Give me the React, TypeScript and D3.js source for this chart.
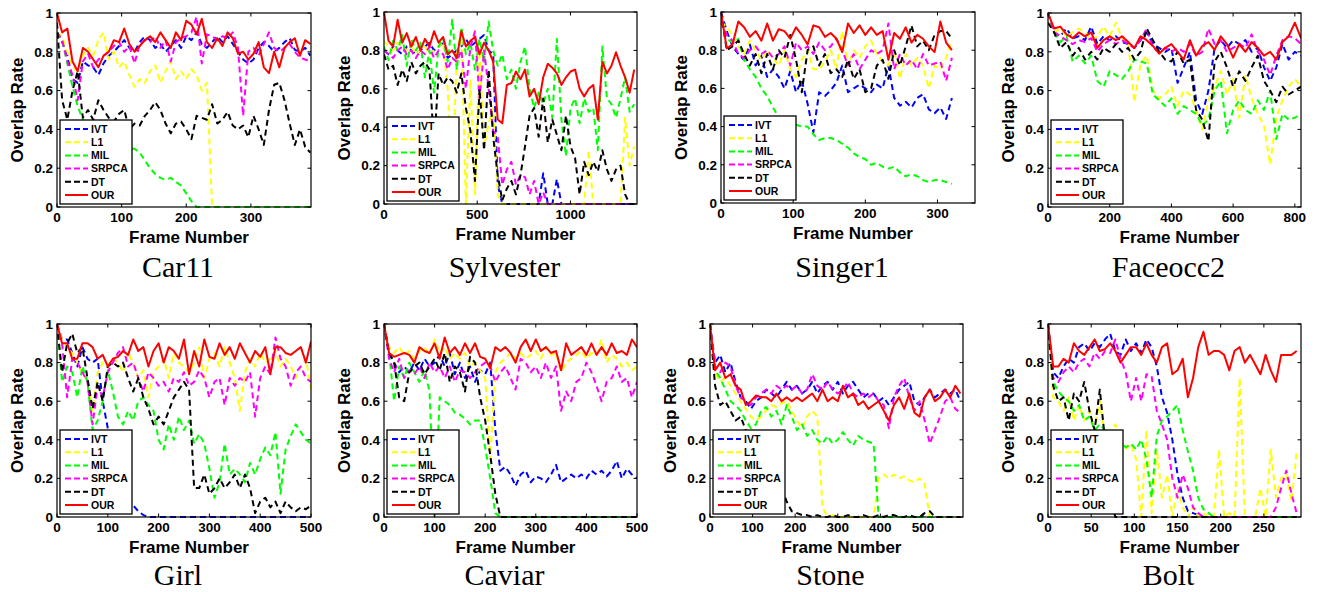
import React from "react";
import * as d3 from "d3";

// overlap rate curves of six trackers on eight sequences
const methods = ["IVT", "L1", "MIL", "SRPCA", "DT", "OUR"];
const methodColors = ["#0000ff", "#ffff00", "#00ff00", "#ff00ff", "#000000", "#ff0000"];
const yTicks = [0, 0.2, 0.4, 0.6, 0.8, 1];

// Car11: one value every 8 frames
const car11IVT = [0.9,0.85,0.78,0.66,0.64,0.75,0.73,0.72,0.68,0.74, 0.78,0.8,0.83,0.86,0.82,0.8,0.85,0.88,0.86,0.82, 0.84,0.8,0.83,0.86,0.82,0.88,0.86,0.9,0.84,0.82, 0.85,0.88,0.85,0.88,0.84,0.8,0.76,0.74,0.76,0.82, 0.85,0.83,0.8,0.82,0.85,0.87,0.81,0.8,0.82,0.78];
const car11L1 = [0.9,0.88,0.8,0.72,0.7,0.78,0.82,0.78,0.86,0.9, 0.76,0.8,0.72,0.75,0.68,0.62,0.66,0.64,0.7,0.73, 0.64,0.7,0.75,0.66,0.7,0.66,0.71,0.68,0.6,0.64, 0,0,0,0,0,0,0,0,0,0, 0,0,0,0,0,0,0,0,0,0];
const car11MIL = [0.9,0.86,0.74,0.62,0.52,0.45,0.42,0.41,0.4,0.38, 0.37,0.36,0.34,0.32,0.3,0.3,0.28,0.24,0.2,0.17, 0.15,0.14,0.15,0.13,0.11,0.07,0.03,0,0,0, 0,0,0,0,0,0,0,0,0,0, 0,0,0,0,0,0,0,0,0,0];
const car11SRPCA = [0.9,0.86,0.75,0.68,0.55,0.75,0.79,0.72,0.76,0.78, 0.8,0.83,0.85,0.8,0.83,0.74,0.84,0.86,0.85,0.88, 0.82,0.86,0.75,0.85,0.87,0.88,0.9,0.98,0.74,0.89, 0.88,0.86,0.88,0.87,0.9,0.82,0.47,0.8,0.82,0.78, 0.84,0.9,0.82,0.8,0.82,0.84,0.8,0.77,0.76,0.75];
const car11DT = [0.95,0.55,0.45,0.6,0.7,0.46,0.5,0.45,0.55,0.5, 0.46,0.44,0.48,0.5,0.4,0.43,0.42,0.47,0.5,0.54, 0.5,0.43,0.38,0.43,0.44,0.4,0.35,0.47,0.46,0.45, 0.53,0.43,0.45,0.49,0.42,0.4,0.42,0.36,0.47,0.4, 0.32,0.5,0.63,0.64,0.55,0.43,0.32,0.4,0.31,0.28];
const car11OUR = [1.0,0.9,0.92,0.75,0.7,0.82,0.8,0.76,0.72,0.78, 0.8,0.86,0.85,0.92,0.84,0.8,0.83,0.86,0.88,0.85, 0.9,0.86,0.82,0.9,0.86,0.96,0.94,0.89,0.97,0.85, 0.82,0.87,0.83,0.9,0.87,0.79,0.8,0.76,0.79,0.85, 0.72,0.69,0.8,0.72,0.82,0.85,0.87,0.78,0.86,0.84];

// Sylvester: one value every 24.4 frames
const sylvesterIVT = [0.8,0.78,0.82,0.8,0.78,0.82,0.8,0.78,0.8,0.82, 0.84,0.8,0.82,0.84,0.76,0.78,0.8,0.82,0.86,0.82, 0.84,0.86,0.88,0.8,0.78,0.1,0,0,0,0, 0,0,0,0,0,0.16,0,0,0.13,0, 0,0,0,0,0,0,0,0,0,0, 0,0,0,0,0,0];
const sylvesterL1 = [0.85,0.82,0.8,0.84,0.82,0.8,0.82,0.78,0.8,0.82, 0.78,0.8,0.82,0.84,0.6,0.1,0.78,0.92,0,0.65, 0.05,0.8,0.3,0.42,0.5,0.05,0,0,0,0, 0,0,0,0,0,0,0,0,0,0, 0,0,0,0,0,0.28,0,0,0,0, 0,0,0,0.45,0.2,0.3];
const sylvesterMIL = [0.82,0.75,0.85,0.8,0.88,0.72,0.86,0.8,0.84,0.66, 0.8,0.58,0.82,0.86,0.74,0.96,0.7,0.92,0.78,0.84, 0.7,0.86,0.74,0.95,0.8,0.72,0.78,0.65,0.7,0.6, 0.74,0.82,0.6,0.5,0.58,0.52,0.6,0.45,0.86,0.44, 0.25,0.5,0.55,0.42,0.55,0.48,0.5,0.28,0.82,0.55, 0.52,0.45,0.55,0.66,0.48,0.52];
const sylvesterSRPCA = [0.8,0.78,0.76,0.8,0.82,0.78,0.8,0.76,0.8,0.78, 0.82,0.76,0.8,0.78,0.7,0.76,0.74,0.8,0.6,0.82, 0.9,0.55,0.8,0.6,0.38,0.35,0.1,0.18,0.22,0.1, 0.15,0.14,0.05,0.12,0,0.06,0,0,0,0, 0,0,0,0,0,0,0,0,0,0, 0,0,0,0,0,0];
const sylvesterDT = [0.78,0.7,0.72,0.62,0.7,0.64,0.74,0.68,0.72,0.74, 0.7,0.3,0.68,0.62,0.66,0.64,0.58,0.68,0.5,0.38, 0.12,0.6,0.28,0.7,0.35,0.15,0.02,0.08,0.12,0.05, 0.15,0.3,0.46,0.5,0.35,0.55,0.32,0.44,0.36,0.28, 0.46,0.3,0.24,0.05,0.22,0.15,0.22,0.17,0.28,0.18, 0.12,0.18,0.2,0.05,0,0];
const sylvesterOUR = [1.0,0.85,0.82,0.96,0.84,0.89,0.82,0.87,0.8,0.86, 0.82,0.9,0.84,0.87,0.78,0.8,0.76,0.9,0.82,0.85, 0.87,0.78,0.84,0.8,0.74,0.44,0.42,0.62,0.63,0.69, 0.65,0.7,0.56,0.6,0.52,0.66,0.73,0.71,0.68,0.62, 0.66,0.69,0.7,0.6,0.56,0.6,0.62,0.44,0.74,0.68, 0.72,0.79,0.72,0.66,0.58,0.7];

// Singer1: one value every 8 frames
const singer1IVT = [1.0,0.9,0.82,0.78,0.75,0.83,0.72,0.77,0.66,0.7, 0.66,0.6,0.69,0.58,0.64,0.52,0.37,0.58,0.56,0.59, 0.63,0.72,0.58,0.6,0.62,0.6,0.58,0.62,0.6,0.72, 0.55,0.51,0.53,0.5,0.55,0.57,0.49,0.47,0.5,0.44, 0.55];
const singer1L1 = [0.95,0.92,0.88,0.82,0.78,0.85,0.8,0.75,0.8,0.76, 0.72,0.8,0.7,0.66,0.75,0.8,0.7,0.7,0.74,0.8, 0.7,0.9,0.72,0.8,0.76,0.82,0.85,0.78,0.74,0.72, 0.8,0.65,0.78,0.72,0.76,0.72,0.6,0.72,0.7,0.76, 0.85];
const singer1MIL = [0.95,0.86,0.84,0.86,0.75,0.7,0.66,0.6,0.56,0.5, 0.45,0.42,0.42,0.41,0.4,0.4,0.36,0.33,0.34,0.34, 0.33,0.31,0.29,0.26,0.24,0.23,0.2,0.21,0.19,0.18, 0.19,0.16,0.14,0.15,0.14,0.12,0.11,0.12,0.12,0.11, 0.1];
const singer1SRPCA = [0.95,0.88,0.85,0.78,0.76,0.8,0.82,0.78,0.8,0.76, 0.78,0.82,0.72,0.84,0.8,0.82,0.78,0.84,0.8,0.82, 0.86,0.8,0.72,0.78,0.7,0.75,0.8,0.78,0.8,0.94, 0.7,0.78,0.72,0.75,0.7,0.78,0.72,0.73,0.74,0.64, 0.76];
const singer1DT = [1.0,0.8,0.82,0.85,0.78,0.72,0.78,0.68,0.78,0.7, 0.8,0.76,0.88,0.75,0.58,0.8,0.82,0.72,0.78,0.68, 0.7,0.66,0.75,0.65,0.7,0.58,0.6,0.72,0.75,0.65, 0.8,0.72,0.82,0.93,0.82,0.85,0.8,0.88,0.9,0.9, 0.86];
const singer1OUR = [1.0,0.81,0.83,0.95,0.92,0.87,0.9,0.85,0.94,0.85, 0.91,0.9,0.86,0.92,0.88,0.83,0.93,0.92,0.87,0.89, 0.86,0.79,0.94,0.89,0.93,0.88,0.92,0.88,0.9,0.75, 0.89,0.86,0.92,0.84,0.88,0.86,0.82,0.79,0.95,0.84, 0.8];

// Faceocc2: one value every 20 frames
const faceocc2IVT = [1.0,0.9,0.88,0.92,0.87,0.88,0.86,0.93,0.84,0.88, 0.86,0.88,0.85,0.84,0.82,0.86,0.9,0.84,0.82,0.8, 0.82,0.64,0.72,0.8,0.55,0.48,0.6,0.82,0.86,0.82, 0.86,0.84,0.86,0.8,0.82,0.72,0.65,0.72,0.84,0.76, 0.8,0.78];
const faceocc2L1 = [1.0,0.9,0.92,0.88,0.9,0.92,0.9,0.86,0.88,0.93, 0.88,0.95,0.87,0.84,0.54,0.74,0.78,0.6,0.56,0.58, 0.62,0.52,0.6,0.58,0.5,0.4,0.55,0.62,0.7,0.58, 0.66,0.46,0.68,0.56,0.48,0.42,0.22,0.46,0.55,0.62, 0.66,0.62];
const faceocc2MIL = [1.0,0.9,0.85,0.88,0.75,0.78,0.74,0.78,0.65,0.62, 0.7,0.68,0.66,0.7,0.76,0.75,0.74,0.58,0.55,0.52, 0.56,0.48,0.52,0.5,0.48,0.42,0.45,0.6,0.65,0.38, 0.5,0.55,0.5,0.48,0.55,0.5,0.6,0.35,0.48,0.45, 0.46,0.48];
const faceocc2SRPCA = [1.0,0.9,0.88,0.86,0.84,0.86,0.85,0.87,0.8,0.84, 0.86,0.84,0.86,0.84,0.82,0.86,0.92,0.82,0.8,0.82, 0.8,0.82,0.8,0.84,0.78,0.8,0.92,0.84,0.86,0.8, 0.82,0.84,0.82,0.89,0.8,0.76,0.68,0.78,0.86,0.88, 0.87,0.84];
const faceocc2DT = [0.95,0.9,0.82,0.85,0.78,0.82,0.76,0.8,0.76,0.82, 0.8,0.84,0.8,0.82,0.76,0.8,0.92,0.86,0.8,0.76, 0.75,0.8,0.74,0.76,0.5,0.45,0.34,0.75,0.8,0.72, 0.62,0.7,0.65,0.72,0.78,0.65,0.6,0.54,0.62,0.58, 0.6,0.62];
const faceocc2OUR = [1.0,0.92,0.93,0.89,0.87,0.9,0.88,0.9,0.82,0.86, 0.88,0.86,0.88,0.85,0.82,0.88,0.86,0.83,0.79,0.82, 0.84,0.8,0.76,0.86,0.78,0.83,0.85,0.81,0.88,0.84, 0.77,0.84,0.8,0.85,0.82,0.78,0.8,0.76,0.85,0.88, 0.95,0.87];

// Girl: one value every 10 frames
const girlIVT = [1.0,0.92,0.92,0.85,0.78,0.88,0.82,0.8,0.82,0.6, 0.46,0.38,0.25,0.12,0.08,0.06,0.03,0.01,0,0, 0,0,0,0,0,0,0,0,0,0, 0,0,0,0,0,0,0,0,0,0, 0,0,0,0,0,0,0,0,0,0, 0];
const girlL1 = [1.0,0.92,0.88,0.85,0.8,0.75,0.7,0.55,0.75,0.8, 0.78,0.82,0.8,0.75,0.85,0.8,0.72,0.76,0.62,0.75, 0.78,0.82,0.72,0.85,0.8,0.78,0.75,0.8,0.88,0.72, 0.82,0.85,0.78,0.88,0.8,0.72,0.55,0.75,0.82,0.78, 0.85,0.8,0.82,0.86,0.78,0.82,0.78,0.72,0.78,0.82, 0.66];
const girlMIL = [1.0,0.7,0.78,0.75,0.62,0.78,0.7,0.45,0.5,0.6, 0.76,0.65,0.52,0.48,0.55,0.5,0.6,0.62,0.58,0.55, 0.4,0.35,0.48,0.4,0.52,0.45,0.5,0.38,0.43,0.38, 0.25,0.1,0.18,0.38,0.22,0.25,0.22,0.18,0.28,0.22, 0.3,0.36,0.32,0.44,0.12,0.35,0.42,0.48,0.44,0.4, 0.38];
const girlSRPCA = [1.0,0.9,0.62,0.82,0.8,0.75,0.7,0.48,0.68,0.62, 0.75,0.8,0.85,0.88,0.78,0.8,0.72,0.65,0.75,0.72, 0.68,0.7,0.65,0.72,0.7,0.75,0.68,0.7,0.76,0.72, 0.62,0.7,0.72,0.58,0.72,0.68,0.72,0.7,0.75,0.52, 0.72,0.78,0.74,0.93,0.82,0.78,0.68,0.75,0.78,0.72, 0.7];
const girlDT = [1.0,0.75,0.9,0.95,0.85,0.88,0.72,0.56,0.7,0.6, 0.78,0.8,0.78,0.8,0.72,0.65,0.72,0.62,0.56,0.48, 0.52,0.48,0.55,0.62,0.66,0.7,0.66,0.15,0.15,0.22, 0.12,0.15,0.2,0.15,0.18,0.22,0.15,0.22,0.15,0.02, 0.08,0.1,0.05,0.08,0.02,0.08,0.05,0.03,0.05,0.04, 0.06];
const girlOUR = [1.0,0.9,0.9,0.82,0.82,0.9,0.9,0.88,0.82,0.84, 0.78,0.82,0.83,0.86,0.84,0.92,0.86,0.88,0.78,0.86, 0.9,0.8,0.88,0.86,0.82,0.92,0.74,0.86,0.78,0.92, 0.83,0.82,0.9,0.84,0.88,0.82,0.9,0.85,0.8,0.86, 0.83,0.88,0.74,0.88,0.88,0.85,0.84,0.86,0.88,0.8, 0.91];

// Caviar: one value every 10 frames
const caviarIVT = [1.0,0.85,0.8,0.75,0.78,0.75,0.8,0.76,0.82,0.78, 0.8,0.84,0.78,0.85,0.74,0.8,0.72,0.78,0.7,0.76, 0.74,0.8,0.45,0.24,0.26,0.22,0.16,0.22,0.24,0.18, 0.21,0.2,0.18,0.22,0.27,0.18,0.2,0.22,0.2,0.22, 0.2,0.24,0.22,0.24,0.21,0.24,0.29,0.2,0.25,0.22, 0.2];
const caviarL1 = [1.0,0.88,0.85,0.88,0.84,0.86,0.82,0.86,0.88,0.84, 0.92,0.85,0.88,0.82,0.85,0.82,0.85,0.78,0.8,0.76, 0.72,0.3,0.75,0.8,0.82,0.85,0.82,0.85,0.82,0.84, 0.86,0.82,0.88,0.84,0.85,0.75,0.8,0.82,0.84,0.86, 0.82,0.85,0.84,0.92,0.8,0.84,0.82,0.78,0.8,0.76, 0.78];
const caviarMIL = [1.0,0.85,0.6,0.78,0.72,0.8,0.75,0.7,0.76,0.65, 0,0.62,0.6,0.58,0.54,0.53,0.51,0.48,0.5,0.5, 0.36,0.2,0.02,0,0,0,0,0,0,0, 0,0,0,0,0,0,0,0,0,0, 0,0,0,0,0,0,0,0,0,0, 0];
const caviarSRPCA = [1.0,0.82,0.75,0.82,0.72,0.76,0.74,0.78,0.72,0.8, 0.75,0.78,0.72,0.78,0.7,0.76,0.75,0.72,0.75,0.78, 0.8,0.78,0.7,0.75,0.78,0.72,0.66,0.82,0.8,0.75, 0.78,0.72,0.8,0.72,0.78,0.55,0.65,0.6,0.7,0.72, 0.8,0.75,0.68,0.6,0.7,0.72,0.78,0.7,0.72,0.62, 0.7];
const caviarDT = [1.0,0.85,0.8,0.62,0.6,0.75,0.78,0.8,0.74,0.78, 0.82,0.76,0.85,0.7,0.78,0.75,0.65,0.83,0.8,0.62, 0.5,0.32,0.12,0,0,0,0,0,0,0, 0,0,0,0,0,0,0,0,0,0, 0,0,0,0,0,0,0,0,0,0, 0];
const caviarOUR = [1.0,0.85,0.83,0.84,0.85,0.84,0.8,0.88,0.86,0.85, 0.9,0.82,0.93,0.85,0.88,0.84,0.9,0.85,0.9,0.83, 0.82,0.77,0.88,0.86,0.88,0.85,0.8,0.88,0.92,0.86, 0.92,0.86,0.88,0.85,0.86,0.76,0.9,0.84,0.86,0.88, 0.84,0.9,0.84,0.88,0.84,0.9,0.85,0.86,0.84,0.92, 0.88];

// Stone: one value every 12 frames
const stoneIVT = [1.0,0.8,0.84,0.75,0.8,0.7,0.62,0.6,0.56,0.6, 0.62,0.66,0.64,0.62,0.66,0.7,0.66,0.68,0.64,0.66, 0.7,0.64,0.68,0.7,0.66,0.7,0.64,0.68,0.7,0.66, 0.62,0.64,0.64,0.6,0.62,0.58,0.62,0.66,0.68,0.7, 0.6,0.58,0.62,0.66,0.62,0.64,0.66,0.64,0.66,0.6];
const stoneL1 = [1.0,0.75,0.7,0.72,0.68,0.64,0.6,0.56,0.52,0.5, 0.52,0.55,0.58,0.57,0.59,0.6,0.55,0.5,0.46,0.52, 0.55,0.52,0.05,0,0.01,0,0,0,0,0, 0,0,0,0.2,0.22,0.2,0.22,0.2,0.21,0.19, 0.18,0.2,0.17,0,0,0,0,0,0,0];
const stoneMIL = [1.0,0.76,0.72,0.66,0.6,0.58,0.55,0.5,0.46,0.48, 0.55,0.57,0.52,0.55,0.48,0.58,0.52,0.45,0.48,0.42, 0.45,0.4,0.38,0.42,0.38,0.4,0.44,0.4,0.37,0.42, 0.4,0.39,0.38,0,0,0,0,0,0,0, 0,0,0,0,0,0,0,0,0,0];
const stoneSRPCA = [1.0,0.78,0.75,0.8,0.78,0.68,0.62,0.6,0.58,0.62, 0.64,0.66,0.64,0.68,0.66,0.68,0.66,0.68,0.64,0.66, 0.74,0.68,0.66,0.7,0.66,0.64,0.66,0.7,0.64,0.62, 0.64,0.62,0.64,0.6,0.58,0.46,0.62,0.68,0.72,0.62, 0.55,0.6,0.5,0.38,0.45,0.52,0.6,0.62,0.56,0.54];
const stoneDT = [1.0,0.68,0.58,0.6,0.55,0.5,0.52,0.45,0.4,0.35, 0.3,0.25,0.2,0.18,0.15,0.08,0.03,0.02,0.01,0.01, 0,0.01,0,0,0.01,0,0,0.01,0,0, 0.01,0,0,0.01,0,0.01,0.01,0,0,0.01, 0,0,0.02,0.03,0,0,0,0,0,0];
const stoneOUR = [1.0,0.76,0.8,0.72,0.74,0.68,0.66,0.58,0.6,0.63, 0.62,0.62,0.6,0.64,0.6,0.62,0.6,0.62,0.6,0.62, 0.64,0.6,0.66,0.6,0.62,0.6,0.68,0.62,0.64,0.58, 0.6,0.56,0.58,0.6,0.55,0.5,0.58,0.62,0.56,0.64, 0.54,0.52,0.62,0.66,0.6,0.62,0.66,0.62,0.68,0.64];

// Bolt: one value every 6 frames
const boltIVT = [1.0,0.75,0.72,0.78,0.82,0.8,0.88,0.9,0.86,0.9, 0.88,0.92,0.95,0.86,0.84,0.92,0.86,0.9,0.85,0.92, 0.88,0.78,0.62,0.54,0.4,0.22,0.1,0.03,0.02,0.01, 0,0,0,0,0,0,0,0,0,0, 0,0,0,0,0,0,0,0,0];
const boltL1 = [1.0,0.62,0.6,0.55,0.62,0.5,0.58,0.5,0.55,0.45, 0.6,0.42,0.45,0.48,0.4,0.35,0.38,0.3,0,0.45, 0.02,0.35,0.1,0.22,0,0.15,0.05,0,0.05,0, 0.02,0,0,0.35,0,0.02,0,0.72,0,0, 0,0.15,0,0.35,0.1,0.2,0.22,0.08,0.34];
const boltMIL = [1.0,0.7,0.65,0.62,0.6,0.55,0.58,0.5,0.52,0.45, 0.48,0.45,0.44,0.42,0.4,0.36,0.38,0.35,0.4,0.3, 0.1,0.42,0.5,0.52,0.55,0.58,0.45,0.34,0.24,0.1, 0.04,0.02,0,0,0,0,0,0,0,0, 0,0,0,0,0,0,0,0,0];
const boltSRPCA = [1.0,0.72,0.7,0.75,0.78,0.75,0.8,0.82,0.78,0.85, 0.82,0.86,0.85,0.92,0.82,0.75,0.6,0.72,0.6,0.74, 0.73,0.55,0.48,0.4,0.2,0.1,0.22,0.15,0.05,0.02, 0,0,0,0,0,0,0,0,0,0, 0,0,0,0,0.05,0.15,0.24,0.12,0.02];
const boltDT = [1.0,0.68,0.6,0.62,0.5,0.64,0.6,0.7,0.55,0.45, 0.66,0.4,0.1,0,0,0,0,0,0,0, 0,0,0,0,0,0,0,0,0,0, 0,0,0,0,0,0,0,0,0,0, 0,0,0,0,0,0,0,0,0];
const boltOUR = [1.0,0.78,0.78,0.82,0.8,0.9,0.86,0.84,0.88,0.92, 0.86,0.87,0.9,0.86,0.8,0.84,0.88,0.88,0.84,0.9, 0.84,0.8,0.88,0.9,0.74,0.76,0.82,0.62,0.72,0.88, 0.96,0.84,0.86,0.86,0.84,0.76,0.86,0.88,0.8,0.84, 0.79,0.74,0.84,0.76,0.7,0.84,0.84,0.84,0.86];

const sequences = ["Car11", "Sylvester", "Singer1", "Faceocc2", "Girl", "Caviar", "Stone", "Bolt"];
const frameCounts = [393, 1357, 352, 820, 500, 500, 594, 293];
const frameSteps = [8, 24.4, 8, 20, 10, 10, 12, 6];
const xTickValues = [
  [0, 100, 200, 300],
  [0, 500, 1000],
  [0, 100, 200, 300],
  [0, 200, 400, 600, 800],
  [0, 100, 200, 300, 400, 500],
  [0, 100, 200, 300, 400, 500],
  [0, 100, 200, 300, 400, 500],
  [0, 50, 100, 150, 200, 250],
];
const seriesBySequence = [
  [car11IVT, car11L1, car11MIL, car11SRPCA, car11DT, car11OUR],
  [sylvesterIVT, sylvesterL1, sylvesterMIL, sylvesterSRPCA, sylvesterDT, sylvesterOUR],
  [singer1IVT, singer1L1, singer1MIL, singer1SRPCA, singer1DT, singer1OUR],
  [faceocc2IVT, faceocc2L1, faceocc2MIL, faceocc2SRPCA, faceocc2DT, faceocc2OUR],
  [girlIVT, girlL1, girlMIL, girlSRPCA, girlDT, girlOUR],
  [caviarIVT, caviarL1, caviarMIL, caviarSRPCA, caviarDT, caviarOUR],
  [stoneIVT, stoneL1, stoneMIL, stoneSRPCA, stoneDT, stoneOUR],
  [boltIVT, boltL1, boltMIL, boltSRPCA, boltDT, boltOUR],
];

// axes boxes on the page
const boxes = [
  { left: 57, top: 13, width: 254, height: 194 },
  { left: 384, top: 12, width: 253, height: 192 },
  { left: 721, top: 12, width: 254, height: 191 },
  { left: 1048, top: 13, width: 253, height: 194 },
  { left: 57, top: 324, width: 254, height: 193 },
  { left: 384, top: 324, width: 253, height: 193 },
  { left: 710, top: 324, width: 253, height: 193 },
  { left: 1048, top: 324, width: 253, height: 193 },
];
const titleBaselines = [277, 277, 277, 277, 585, 585, 585, 585];

const sans = "'Liberation Sans', Arial, Helvetica, sans-serif";
const serif = "'Liberation Serif', 'Times New Roman', serif";

function Panel({ idx }: { idx: number }) {
  const b = boxes[idx];
  const frames = frameCounts[idx];
  const step = frameSteps[idx];
  const bottom = b.top + b.height;
  const right = b.left + b.width;
  const cx = b.left + b.width / 2;

  const x = d3.scaleLinear().domain([0, frames]).range([b.left, right]);
  const y = d3.scaleLinear().domain([0, 1]).range([bottom, b.top]);

  const line = d3
    .line<number>()
    .x((d, i) => x(Math.min(i * step, frames)))
    .y((d) => y(d));

  const clipId = "clip" + idx;
  const tick = 3.5;

  const lx = b.left + 3;
  const ly = bottom - 87;

  return (
    <g>
      <defs>
        <clipPath id={clipId}>
          <rect x={b.left} y={b.top - 1} width={b.width} height={b.height + 2} />
        </clipPath>
      </defs>
      <rect x={b.left} y={b.top} width={b.width} height={b.height} fill="#fff" />

      <g clipPath={`url(#${clipId})`}>
        {seriesBySequence[idx].map((vals, k) => (
          <path
            key={k}
            d={line(vals) || ""}
            fill="none"
            stroke={methodColors[k]}
            strokeWidth={2}
            strokeDasharray={methods[k] === "OUR" ? undefined : "6,4"}
            strokeLinejoin="round"
          />
        ))}
      </g>

      {/* box and inward ticks */}
      <rect x={b.left} y={b.top} width={b.width} height={b.height} fill="none" stroke="#000" strokeWidth={1.2} />
      {xTickValues[idx].map((t) => (
        <g key={"xt" + t}>
          <line x1={x(t)} x2={x(t)} y1={bottom} y2={bottom - tick} stroke="#000" strokeWidth={1} />
          <line x1={x(t)} x2={x(t)} y1={b.top} y2={b.top + tick} stroke="#000" strokeWidth={1} />
          <text x={x(t)} y={bottom + 15} textAnchor="middle" fontFamily={sans} fontWeight="bold" fontSize={13.5}>
            {t}
          </text>
        </g>
      ))}
      {yTicks.map((t) => (
        <g key={"yt" + t}>
          <line x1={b.left} x2={b.left + tick} y1={y(t)} y2={y(t)} stroke="#000" strokeWidth={1} />
          <line x1={right} x2={right - tick} y1={y(t)} y2={y(t)} stroke="#000" strokeWidth={1} />
          <text x={b.left - 4} y={y(t)} dy="0.36em" textAnchor="end" fontFamily={sans} fontWeight="bold" fontSize={13.5}>
            {String(t)}
          </text>
        </g>
      ))}

      {/* legend */}
      <rect x={lx} y={ly} width={72} height={84} fill="#fff" stroke="#000" strokeWidth={1.3} />
      {methods.map((m, k) => {
        const yy = ly + 9 + k * 13.2;
        return (
          <g key={m}>
            <line
              x1={lx + 5}
              x2={lx + 28}
              y1={yy}
              y2={yy}
              stroke={methodColors[k]}
              strokeWidth={2}
              strokeDasharray={m === "OUR" ? undefined : "6,3"}
            />
            <text x={lx + 31} y={yy} dy="0.36em" fontFamily={sans} fontWeight="bold" fontSize={10.5}>
              {m}
            </text>
          </g>
        );
      })}

      {/* axis labels and title */}
      <text
        transform={`translate(${b.left - 34},${b.top + b.height / 2}) rotate(-90)`}
        textAnchor="middle"
        fontFamily={sans}
        fontWeight="bold"
        fontSize={17}
      >
        Overlap Rate
      </text>
      <text x={cx + 5} y={bottom + 36} textAnchor="middle" fontFamily={sans} fontWeight="bold" fontSize={17}>
        Frame Number
      </text>
      <text x={cx - 6} y={titleBaselines[idx]} textAnchor="middle" fontFamily={serif} fontSize={30}>
        {sequences[idx]}
      </text>
    </g>
  );
}

export default function App() {
  return (
    <svg
      width={1319}
      height={592}
      style={{ position: "absolute", left: 0, top: 0, background: "#fff" }}
    >
      {sequences.map((s, i) => (
        <Panel key={s} idx={i} />
      ))}
    </svg>
  );
}
